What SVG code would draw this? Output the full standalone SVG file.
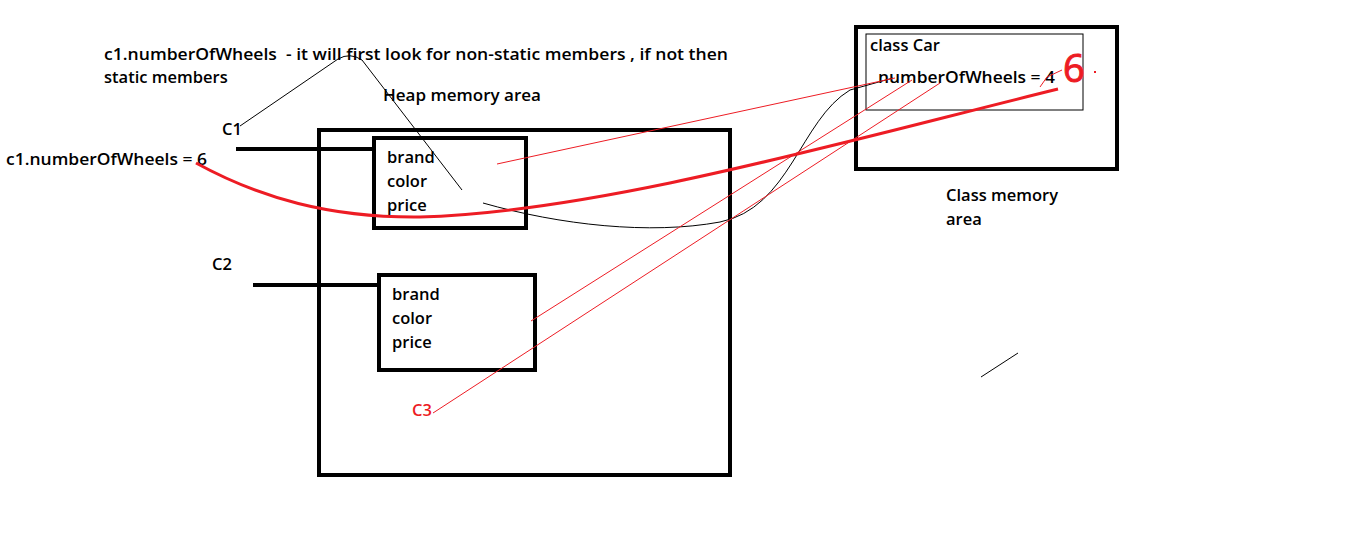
<svg xmlns="http://www.w3.org/2000/svg" width="1360" height="553" viewBox="0 0 1360 553">
<style>
text{font-family:"Open Sans","Liberation Sans",sans-serif;font-size:16.5px;font-weight:600;fill:#000}
.red{fill:#ed1c24}
.box{fill:none;stroke:#000;stroke-width:4}
.thin{fill:none;stroke:#000;stroke-width:1}
.rthin{fill:none;stroke:#ed1c24;stroke-width:1}
.ref{stroke:#000;stroke-width:4;fill:none}
</style>
<rect width="1360" height="553" fill="#fff"/>
<g id="notes">
<text x="104" y="60" textLength="624" lengthAdjust="spacingAndGlyphs" xml:space="preserve">c1.numberOfWheels  - it will first look for non-static members , if not then</text>
<text x="104" y="83">static members</text>
<text x="6" y="165" textLength="201" lengthAdjust="spacingAndGlyphs">c1.numberOfWheels = 6</text>
</g>
<g id="heap">
<rect class="box" x="319" y="130" width="411" height="345"/>
<text x="383" y="101" textLength="158" lengthAdjust="spacingAndGlyphs">Heap memory area</text>
</g>
<g id="obj1">
<rect class="box" x="374" y="138" width="152" height="90"/>
<text x="387" y="163">brand</text>
<text x="387" y="187">color</text>
<text x="387" y="211">price</text>
</g>
<g id="obj2">
<rect class="box" x="379" y="275" width="156" height="95"/>
<text x="392" y="300">brand</text>
<text x="392" y="324">color</text>
<text x="392" y="348">price</text>
</g>
<g id="c1"><text x="222" y="135">C1</text></g>
<g id="c2"><text x="212" y="270">C2</text></g>
<g id="c3"><text class="red" x="412" y="416">C3</text></g>
<g id="classArea">
<rect class="box" x="856" y="27" width="261" height="142"/>
<rect class="thin" x="866" y="34" width="217" height="76"/>
<text x="870" y="51">class Car</text>
<text x="878" y="83" textLength="177" lengthAdjust="spacingAndGlyphs">numberOfWheels = 4</text>
<text x="946" y="201">Class memory</text>
<text x="946" y="225">area</text>
<text x="1063" y="82" style="font-size:38px;font-weight:400;fill:#ed1c24;stroke:#ed1c24;stroke-width:1">6</text>
<rect x="1094" y="71" width="2" height="2" fill="#ed1c24"/>
</g>
<g id="connectors">
<line class="ref" x1="236" y1="149" x2="374" y2="149"/>
<line class="ref" x1="253" y1="285" x2="379" y2="285"/>
<path class="thin" d="M240,126 L338,59 Q350,52 362,60 L462,190"/>
<path class="thin" d="M483,203 C560,225 650,235 720,222 C790,208 800,120 850,90 L893,78"/>
<line class="rthin" x1="497" y1="164" x2="895" y2="78"/>
<line class="rthin" x1="531" y1="321" x2="912" y2="80"/>
<line class="rthin" x1="433" y1="413" x2="940" y2="83"/>
<path class="rthin" d="M1040,87 L1047,77 L1062,70"/>
<path d="M196,163 C260,198 330,218 420,217 C600,212 850,140 1058,89" fill="none" stroke="#ed1c24" stroke-width="3"/>
<line class="thin" x1="981" y1="377" x2="1018" y2="353"/>
</g>
</svg>
